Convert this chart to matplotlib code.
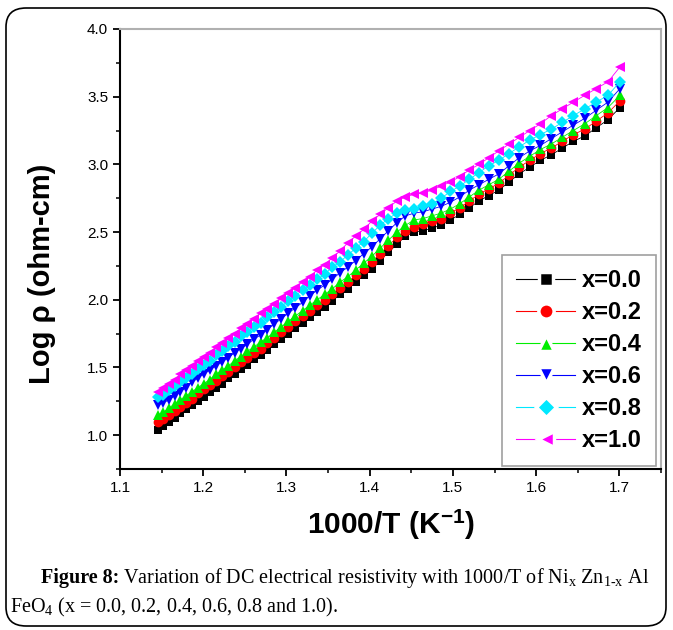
import matplotlib
matplotlib.use("Agg")
import matplotlib.pyplot as plt
from matplotlib.lines import Line2D
from matplotlib.patches import FancyBboxPatch
from matplotlib.ticker import MultipleLocator

plt.rcParams['font.family'] = ['Liberation Sans', 'DejaVu Sans']
plt.rcParams['mathtext.fontset'] = 'custom'
plt.rcParams['mathtext.rm'] = 'Liberation Serif'
plt.rcParams['mathtext.it'] = 'Liberation Serif:italic'
plt.rcParams['mathtext.bf'] = 'Liberation Serif:bold'
plt.rcParams['mathtext.sf'] = 'Liberation Sans:bold'

# 1000/T values (K^-1)
inv_T = [1.1455, 1.1521, 1.1587, 1.1655, 1.1723, 1.1792, 1.1862, 1.1933, 1.2005, 1.2077,
         1.2151, 1.2225, 1.2300, 1.2376, 1.2453, 1.2531, 1.2610, 1.2690, 1.2771, 1.2853,
         1.2937, 1.3021, 1.3106, 1.3193, 1.3280, 1.3369, 1.3459, 1.3550, 1.3643, 1.3736,
         1.3831, 1.3928, 1.4025, 1.4124, 1.4225, 1.4327, 1.4430, 1.4535, 1.4641, 1.4749,
         1.4859, 1.4970, 1.5083, 1.5198, 1.5314, 1.5432, 1.5552, 1.5674, 1.5798, 1.5924,
         1.6051, 1.6181, 1.6313, 1.6447, 1.6584, 1.6722, 1.6863, 1.7007]

# Log rho (ohm-cm) for each composition
rho_x00 = [1.04, 1.07, 1.10, 1.13, 1.16, 1.19, 1.22, 1.25, 1.28, 1.32,
           1.35, 1.38, 1.42, 1.45, 1.49, 1.52, 1.56, 1.59, 1.63, 1.67,
           1.71, 1.75, 1.79, 1.83, 1.87, 1.91, 1.95, 1.99, 2.04, 2.08,
           2.13, 2.18, 2.23, 2.29, 2.35, 2.41, 2.47, 2.50, 2.51, 2.53,
           2.55, 2.59, 2.63, 2.68, 2.73, 2.77, 2.81, 2.87, 2.93, 2.98,
           3.03, 3.07, 3.12, 3.17, 3.21, 3.27, 3.33, 3.42]
rho_x02 = [1.10, 1.12, 1.15, 1.18, 1.21, 1.24, 1.27, 1.31, 1.34, 1.37,
           1.40, 1.44, 1.47, 1.50, 1.54, 1.57, 1.61, 1.64, 1.68, 1.72,
           1.76, 1.80, 1.84, 1.88, 1.92, 1.96, 2.00, 2.04, 2.09, 2.13,
           2.18, 2.23, 2.28, 2.34, 2.40, 2.46, 2.51, 2.54, 2.56, 2.58,
           2.60, 2.64, 2.68, 2.73, 2.78, 2.82, 2.86, 2.92, 2.98, 3.03,
           3.08, 3.12, 3.17, 3.22, 3.26, 3.32, 3.38, 3.47]
rho_x04 = [1.15, 1.17, 1.20, 1.23, 1.26, 1.29, 1.32, 1.35, 1.38, 1.41,
           1.45, 1.48, 1.51, 1.55, 1.58, 1.62, 1.65, 1.69, 1.72, 1.76,
           1.80, 1.84, 1.88, 1.92, 1.96, 2.00, 2.04, 2.08, 2.13, 2.17,
           2.22, 2.27, 2.32, 2.38, 2.44, 2.50, 2.55, 2.59, 2.60, 2.62,
           2.64, 2.67, 2.71, 2.76, 2.81, 2.85, 2.89, 2.95, 3.01, 3.06,
           3.11, 3.15, 3.20, 3.25, 3.30, 3.36, 3.42, 3.51]
rho_x06 = [1.22, 1.24, 1.26, 1.29, 1.32, 1.35, 1.39, 1.42, 1.45, 1.48,
           1.51, 1.54, 1.57, 1.61, 1.64, 1.67, 1.71, 1.74, 1.78, 1.82,
           1.86, 1.90, 1.94, 1.98, 2.03, 2.07, 2.11, 2.15, 2.20, 2.24,
           2.29, 2.34, 2.39, 2.45, 2.51, 2.57, 2.62, 2.64, 2.65, 2.67,
           2.69, 2.72, 2.76, 2.81, 2.85, 2.89, 2.93, 2.99, 3.05, 3.10,
           3.14, 3.19, 3.24, 3.29, 3.34, 3.40, 3.46, 3.56]
rho_x08 = [1.28, 1.30, 1.33, 1.36, 1.39, 1.42, 1.45, 1.49, 1.52, 1.55,
           1.59, 1.62, 1.66, 1.69, 1.73, 1.76, 1.80, 1.83, 1.87, 1.91,
           1.95, 1.99, 2.03, 2.07, 2.11, 2.15, 2.19, 2.24, 2.28, 2.33,
           2.38, 2.43, 2.49, 2.55, 2.60, 2.64, 2.66, 2.67, 2.69, 2.71,
           2.75, 2.80, 2.84, 2.89, 2.94, 2.99, 3.03, 3.08, 3.13, 3.18,
           3.22, 3.26, 3.31, 3.36, 3.41, 3.46, 3.51, 3.61]
rho_x10 = [1.32, 1.35, 1.38, 1.41, 1.45, 1.48, 1.51, 1.55, 1.58, 1.61,
           1.65, 1.68, 1.72, 1.75, 1.79, 1.82, 1.86, 1.90, 1.93, 1.97,
           2.01, 2.05, 2.09, 2.13, 2.17, 2.22, 2.26, 2.31, 2.36, 2.42,
           2.47, 2.52, 2.58, 2.63, 2.68, 2.73, 2.76, 2.78, 2.79, 2.81,
           2.84, 2.87, 2.91, 2.96, 3.00, 3.05, 3.10, 3.15, 3.20, 3.25,
           3.30, 3.36, 3.41, 3.46, 3.51, 3.56, 3.61, 3.72]

labels = ['x=0.0', 'x=0.2', 'x=0.4', 'x=0.6', 'x=0.8', 'x=1.0']
series = [rho_x00, rho_x02, rho_x04, rho_x06, rho_x08, rho_x10]
colors = ['#000000', '#ff0000', '#00ee00', '#0000ff', '#00e8ff', '#ff00ff']
markers = ['s', 'o', '^', 'v', 'D', '<']
sizes = [6.2, 7, 7.5, 7.5, 6.2, 7.5]

fig = plt.figure(figsize=(6.73, 6.3), dpi=100)
ax = fig.add_axes([120 / 673, 1 - 469 / 630, 541 / 673, 440 / 630])

for y, c, m, s in zip(series, colors, markers, sizes):
    ax.plot(inv_T, y, color=c, lw=0.6, marker=m, markersize=s,
            markeredgewidth=0, zorder=3)

ax.set_xlim(1.1, 1.75)
ax.set_ylim(0.75, 4.0)
ax.xaxis.set_major_locator(MultipleLocator(0.1))
ax.xaxis.set_minor_locator(MultipleLocator(0.05))
ax.yaxis.set_major_locator(MultipleLocator(0.5))
ax.yaxis.set_minor_locator(MultipleLocator(0.25))
ax.tick_params(which='major', direction='out', length=5, width=1.3, labelsize=11)
ax.tick_params(which='minor', direction='out', length=3, width=1.1)
ax.tick_params(top=False, right=False, which='both')

for side in ['left', 'bottom']:
    ax.spines[side].set_linewidth(1.5)
    ax.spines[side].set_color('black')
for side in ['top', 'right']:
    ax.spines[side].set_linewidth(1.5)
    ax.spines[side].set_color('#b0b0b0')

ax.set_xlabel('1000/T (K$^{\\mathsf{-1}}$)', fontsize=21.5, fontweight='bold')
ax.xaxis.set_label_coords(0.5, (469 - 508) / 440)
ax.set_ylabel('Log \u03c1 (ohm-cm)', fontsize=21, fontweight='bold', va='center')
ax.yaxis.set_label_coords((42 - 120) / 541, (469 - 274) / 440)

handles = [Line2D([0], [0], color=c, lw=0.8, marker=m, markersize=s + 4,
                  markeredgecolor='white', markeredgewidth=2.5)
           for c, m, s in zip(colors, markers, sizes)]
leg = ax.legend(handles, labels, loc='upper left',
                bbox_to_anchor=((502 - 120) / 541, (469 - 255) / 440),
                prop={'size': 17, 'weight': 'bold'}, frameon=True, fancybox=False,
                handlelength=2.5, handletextpad=0.3, labelspacing=0.38,
                borderpad=0.6, borderaxespad=0)
leg.get_frame().set_edgecolor('#888888')
leg.get_frame().set_linewidth(1.2)

# caption under the chart: bold lead-in, then the rest on the same baseline
cap_y1 = 1 - 583 / 630
cap_y2 = 1 - 612 / 630
lead = fig.text(41 / 673, cap_y1, 'Figure 8:', fontsize=14.5,
                family='Liberation Serif', fontweight='bold', va='baseline')
renderer = fig.canvas.get_renderer()
lead_w = lead.get_window_extent(renderer).width / fig.bbox.width
fig.text(41 / 673 + lead_w + 4 / 673, cap_y1,
         r'Variation of DC electrical resistivity with 1000/T of '
         r'Ni$_{\mathrm{x}}$ Zn$_{\mathrm{1\text{-}x}}$ Al',
         fontsize=14.5, family='Liberation Serif', va='baseline')
fig.text(10 / 673, cap_y2,
         r'FeO$_{\mathrm{4}}$ (x = 0.0, 0.2, 0.4, 0.6, 0.8 and 1.0).',
         fontsize=14.5, family='Liberation Serif', va='baseline')

border = FancyBboxPatch((6 / 673, 4 / 630), 660 / 673, 618 / 630,
                        boxstyle='round,pad=0,rounding_size=0.03',
                        transform=fig.transFigure, fill=False,
                        edgecolor='black', lw=1.2)
fig.patches.append(border)

fig.savefig('out.png', dpi=100)
